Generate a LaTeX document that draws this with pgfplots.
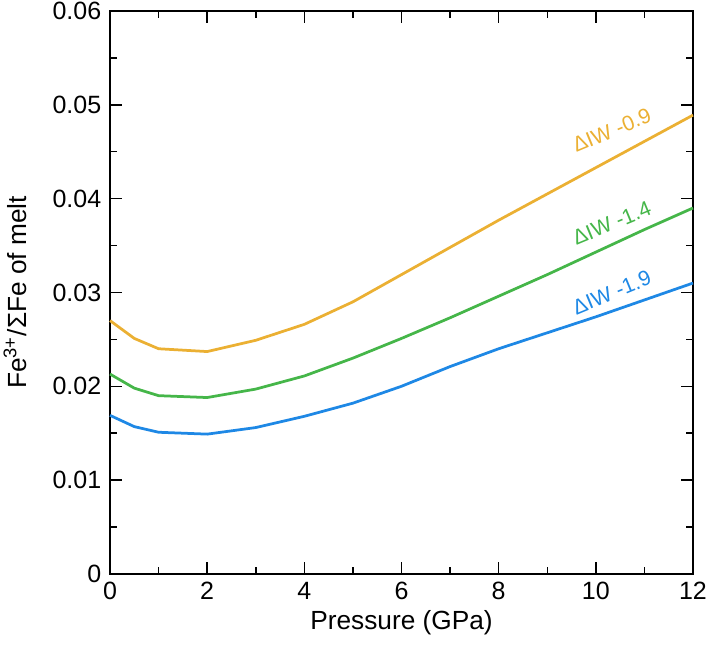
\documentclass[border=0pt]{standalone}
\usepackage{pgfplots}
\pgfplotsset{compat=1.18}
\usepackage{fontspec}
\setmainfont{Liberation Sans}
\definecolor{corange}{HTML}{EBB033}
\definecolor{cgreen}{HTML}{45B649}
\definecolor{cblue}{HTML}{1E88E5}
\begin{document}
\begin{tikzpicture}
\begin{axis}[
  scale only axis,
  width=233.2pt, height=225.2pt,
  xmin=0, xmax=12, ymin=0, ymax=0.06,
  xtick={0,2,...,12}, minor xtick={1,3,...,11},
  ytick={0,0.01,0.02,0.03,0.04,0.05,0.06},
  yticklabels={0,0.01,0.02,0.03,0.04,0.05,0.06},
  minor ytick={0.005,0.015,0.025,0.035,0.045,0.055},
  tick align=inside,
  major tick length=4.7pt, minor tick length=2.7pt,
  every tick/.style={black, line width=0.6pt},
  axis line style={line width=0.6pt},
  /pgf/number format/assume math mode=true,
  ticklabel style={font=\fontsize{10}{12}\selectfont},
  xticklabel style={yshift=-2pt, inner ysep=1pt},
  label style={font=\fontsize{10.5}{12.5}\selectfont},
  xlabel={Pressure (GPa)},
  ylabel={Fe\textsuperscript{3+}/ΣFe of melt},
  xlabel style={at={(axis description cs:0.5,-0.087)}, anchor=center, inner sep=0pt},
  ylabel style={at={(axis description cs:-0.163,0.5)}, anchor=center},
  clip=false,
]
\addplot[corange, line width=1.1pt] coordinates {(0,0.0270)(0.5,0.0251)(1,0.0240)(2,0.0237)(3,0.0249)(4,0.0266)(5,0.0290)(6,0.0319)(7,0.0348)(8,0.0377)(9,0.0405)(10,0.0433)(11,0.0461)(12,0.0489)};
\addplot[cgreen, line width=1.1pt] coordinates {(0,0.0213)(0.5,0.0198)(1,0.0190)(2,0.0188)(3,0.0197)(4,0.0211)(5,0.0230)(6,0.0251)(7,0.0273)(8,0.0296)(9,0.0319)(10,0.0343)(11,0.0367)(12,0.0390)};
\addplot[cblue, line width=1.1pt] coordinates {(0,0.0169)(0.5,0.0157)(1,0.0151)(2,0.0149)(3,0.0156)(4,0.0168)(5,0.0182)(6,0.0200)(7,0.0221)(8,0.0240)(9,0.0257)(10,0.0274)(11,0.0292)(12,0.0310)};
\node[corange, rotate=22.5, inner sep=0pt, font=\fontsize{8.5}{10}\selectfont] at (axis cs:10.33,0.0473) {ΔIW -0.9};
\node[cgreen, rotate=22.5, inner sep=0pt, font=\fontsize{8.5}{10}\selectfont] at (axis cs:10.33,0.0374) {ΔIW -1.4};
\node[cblue, rotate=22.5, inner sep=0pt, font=\fontsize{8.5}{10}\selectfont] at (axis cs:10.33,0.0300) {ΔIW -1.9};
\coordinate (bbl) at (rel axis cs:-0.1887,-0.1297);
\coordinate (btr) at (rel axis cs:1.024,1.0195);
\end{axis}
\pgfresetboundingbox
\path[use as bounding box] (bbl) rectangle (btr);
\end{tikzpicture}
\end{document}
